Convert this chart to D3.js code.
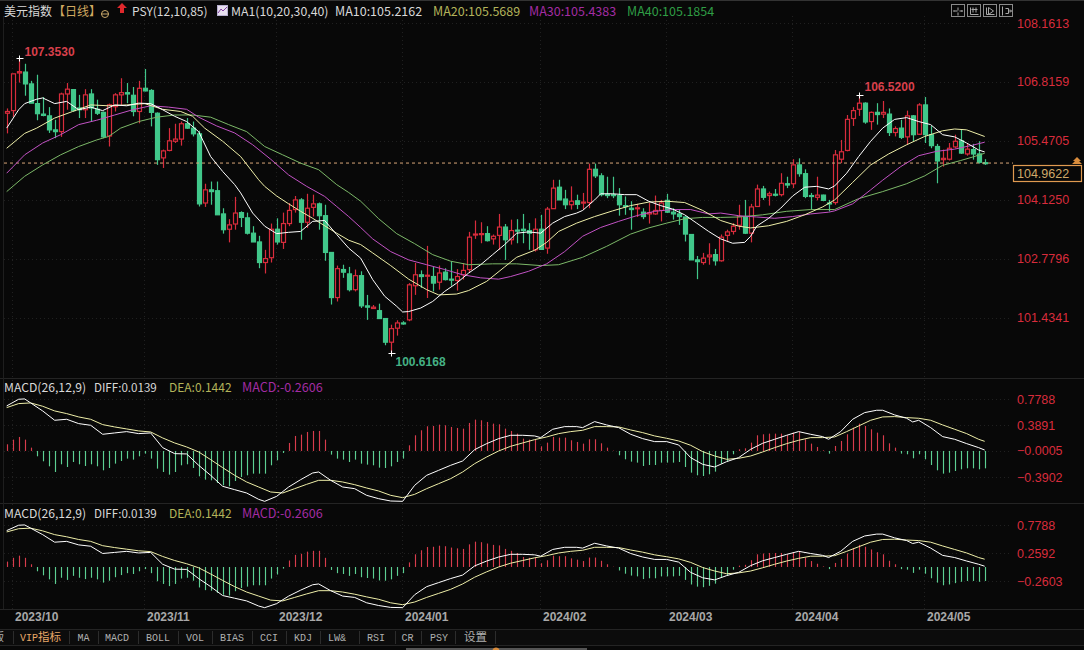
<!DOCTYPE html>
<html>
<head>
<meta charset="utf-8">
<style>
    html, body { margin: 0; padding: 0; background: #080808; overflow: hidden; }
    svg { display: block; }
</style>
<script src="https://cdn.jsdelivr.net/npm/d3@7"></script>
</head>
<body>
<svg id="chart" width="1084" height="650"></svg>
<script>
// daily candles, 164 bars
const open = [106.10,106.16,107.02,107.04,106.77,106.32,106.08,106.04,105.72,105.68,106.54,106.64,106.22,106.18,106.54,106.19,106.12,105.58,106.25,106.52,106.57,106.51,106.14,106.67,106.62,106.10,105.08,105.25,105.46,105.51,105.86,105.76,105.63,104.05,104.35,104.33,103.80,103.45,103.57,103.83,103.71,103.36,103.16,102.69,102.80,103.45,103.15,103.58,103.90,104.12,103.61,103.95,104.03,103.76,102.92,101.89,102.53,102.43,102.07,102.39,101.70,101.64,101.59,101.41,100.87,101.19,101.31,101.38,102.16,102.41,102.39,102.37,102.24,102.47,102.31,102.28,102.41,102.53,103.33,103.33,103.35,103.23,103.31,103.50,103.21,103.43,103.45,103.42,102.98,103.45,103.02,103.92,104.41,104.14,104.01,104.10,104.05,104.06,104.82,104.67,104.25,104.24,104.22,103.99,103.93,103.92,103.84,103.80,103.80,103.88,104.11,103.84,103.80,103.73,103.33,102.75,102.69,102.82,102.87,102.73,103.31,103.40,103.54,103.74,103.36,103.97,104.37,104.22,104.25,104.24,104.49,104.49,104.92,104.72,104.22,104.18,104.23,104.05,104.06,105.05,105.25,105.98,106.19,106.33,105.91,106.12,106.08,106.08,105.66,105.76,105.56,106.04,105.62,106.29,105.61,105.34,105.04,105.05,105.33,105.47,105.17,105.27,105.17,104.97];
const close = [106.14,107.00,107.05,106.77,106.33,106.09,106.05,105.72,105.68,106.54,106.65,106.16,106.18,106.52,106.22,106.10,105.56,106.29,106.52,106.57,106.54,106.14,106.67,106.61,106.12,105.04,105.24,105.47,105.51,105.86,105.76,105.63,104.03,104.35,104.31,103.78,103.44,103.55,103.82,103.72,103.36,103.16,102.69,102.78,103.45,103.16,103.58,103.88,104.12,103.61,103.93,104.03,103.76,102.92,101.89,102.55,102.47,102.07,102.39,101.70,101.67,101.67,101.41,100.87,101.18,101.31,101.29,102.18,102.41,102.37,102.40,102.22,102.45,102.30,102.29,102.37,102.51,103.27,103.34,103.35,103.19,103.29,103.50,103.21,103.42,103.42,103.42,103.36,103.45,102.99,103.91,104.39,104.12,104.01,104.09,104.02,104.07,104.82,104.67,104.24,104.22,104.22,104.01,103.97,103.90,103.94,103.74,103.83,103.88,104.05,103.84,103.80,103.74,103.34,102.75,102.71,102.79,102.86,102.73,103.27,103.39,103.52,103.74,103.36,103.96,104.37,104.18,104.26,104.23,104.50,104.46,104.92,104.72,104.20,104.20,104.23,104.11,104.03,105.15,105.22,105.96,106.16,106.33,105.90,106.12,106.07,106.12,105.66,105.75,105.55,106.04,105.61,106.29,105.61,105.36,105.01,105.07,105.30,105.46,105.19,105.28,105.17,104.98,104.96];
const high = [106.21,107.00,107.353,107.23,106.84,106.98,106.47,106.24,105.95,106.57,106.79,106.65,106.52,106.65,106.65,106.41,106.14,106.32,106.56,106.90,106.79,106.70,106.84,107.11,106.65,106.12,105.27,105.76,105.86,105.91,105.99,105.91,105.70,104.49,104.54,104.54,103.93,103.68,104.19,103.86,103.83,103.52,103.30,102.98,103.58,103.70,103.83,104.05,104.21,104.16,104.26,104.24,104.06,104.01,102.92,102.62,102.64,102.59,102.53,102.49,101.95,101.72,101.75,101.42,101.27,101.37,101.35,102.22,102.68,102.51,103.07,102.59,102.62,102.56,102.72,102.54,102.68,103.39,103.65,103.61,103.52,103.33,103.80,103.57,103.67,103.68,103.80,103.59,103.70,103.78,103.96,104.58,104.58,104.35,104.43,104.24,104.28,104.95,104.95,104.73,104.65,104.65,104.39,104.20,104.09,104.03,103.93,104.05,104.22,104.12,104.26,103.93,103.90,103.74,103.33,102.84,102.91,103.13,103.00,103.33,103.44,103.59,104.01,104.12,104.03,104.47,104.44,104.31,104.37,104.73,104.65,105.05,105.07,104.82,104.28,104.65,104.24,104.12,105.26,105.49,106.06,106.24,106.52,106.35,106.14,106.33,106.38,106.21,105.80,105.95,106.16,106.06,106.33,106.47,105.81,105.40,105.27,105.42,105.61,105.74,105.42,105.40,105.46,105.05];
const low = [105.64,106.02,106.80,106.50,106.33,105.94,106.03,105.65,105.53,105.56,106.18,106.14,105.99,105.99,105.91,106.06,105.53,105.34,106.14,106.29,106.33,106.03,105.87,106.60,105.80,104.92,104.85,105.23,105.42,105.36,105.74,105.57,103.97,103.96,104.01,103.78,103.35,103.15,103.44,103.50,103.33,103.16,102.56,102.44,102.69,103.10,103.00,103.52,103.83,103.21,103.48,103.74,103.44,102.73,101.73,101.80,102.34,102.03,102.03,101.65,101.38,101.63,101.40,100.80,100.6168,101.02,101.27,101.35,101.95,102.11,101.88,102.03,102.07,102.28,102.16,102.05,102.30,102.45,103.23,103.13,103.17,103.10,102.98,102.75,103.10,103.13,103.13,102.98,102.94,102.98,102.89,103.92,104.12,103.91,103.90,103.91,103.90,103.93,104.62,104.20,104.16,104.16,103.76,103.78,103.44,103.73,103.68,103.58,103.78,103.63,103.82,103.67,103.55,103.17,102.75,102.31,102.64,102.64,102.62,102.71,103.17,103.33,103.44,103.34,103.15,103.96,104.12,103.99,104.20,104.20,104.39,104.39,104.65,104.16,103.91,104.11,104.09,103.86,104.01,104.96,105.23,105.81,106.04,105.86,105.72,105.84,105.99,105.58,105.57,105.51,105.38,105.46,105.61,105.42,105.30,104.50,104.88,105.02,105.30,105.17,105.13,105.04,104.95,104.92];

// moving averages, read at the bars listed in each *Idx array
const ma10Idx = [0,2,3,5,6,8,10,12,14,16,18,20,22,24,26,28,30,32,34,36,38,39,41,43,45,47,49,51,53,55,57,59,61,63,65,66,67,69,71,73,75,77,79,81,83,85,87,89,91,93,95,96,98,99,101,103,105,107,109,111,113,115,117,119,121,123,124,125,127,129,131,133,135,137,138,140,142,144,146,148,150,152,154,156,158,160,162,163];
const ma10 = [105.76,106.18,106.32,106.42,106.45,106.32,106.37,106.18,106.24,106.16,106.29,106.27,106.33,106.32,106.18,106.03,105.91,105.68,105.11,104.77,104.47,104.28,103.82,103.52,103.35,103.38,103.40,103.63,103.65,103.33,103.02,102.79,102.30,101.92,101.69,101.56,101.57,101.65,101.80,102.03,102.22,102.45,102.64,102.87,103.10,103.36,103.39,103.36,103.59,103.74,103.82,103.88,104.12,104.26,104.26,104.24,104.24,104.09,103.99,103.91,103.78,103.59,103.40,103.23,103.13,103.15,103.29,103.52,103.70,103.93,104.21,104.41,104.43,104.37,104.44,104.73,105.11,105.46,105.76,105.96,106.00,105.91,105.84,105.61,105.56,105.42,105.26,105.2162];
const ma20Idx = [0,3,5,8,11,14,17,20,23,26,29,31,33,36,39,42,43,45,47,49,51,53,55,57,59,61,64,67,70,72,75,77,80,83,85,88,90,92,95,98,101,104,107,110,113,116,119,122,124,127,130,133,136,138,141,144,147,150,153,156,158,160,163];
const ma20 = [105.30,105.64,105.76,105.99,106.14,106.29,106.27,106.29,106.32,106.19,106.14,106.03,105.76,105.46,105.11,104.58,104.43,104.21,104.03,103.86,103.70,103.53,103.36,103.20,103.10,102.91,102.62,102.31,102.07,101.95,101.97,102.05,102.26,102.59,102.81,102.97,103.15,103.40,103.59,103.74,103.87,103.99,104.07,104.09,104.06,103.88,103.65,103.52,103.48,103.53,103.63,103.78,103.96,104.12,104.52,104.92,105.17,105.38,105.57,105.70,105.74,105.72,105.5689];
const ma30Idx = [0,3,6,9,12,15,18,21,24,27,30,32,35,38,41,44,47,50,53,55,57,59,61,64,67,70,73,76,79,82,84,87,90,93,96,99,102,105,108,111,114,117,119,122,125,128,131,134,137,138,141,144,146,149,152,155,158,161,163];
const ma30 = [104.73,105.15,105.42,105.61,105.84,105.94,106.06,106.18,106.27,106.24,106.19,106.01,105.81,105.65,105.38,105.05,104.69,104.43,104.20,103.97,103.74,103.49,103.23,102.94,102.75,102.64,102.53,102.41,102.34,102.31,102.37,102.49,102.66,102.94,103.29,103.49,103.63,103.76,103.86,103.90,103.90,103.80,103.82,103.76,103.73,103.70,103.74,103.80,103.84,103.87,104.03,104.35,104.57,104.88,105.13,105.23,105.28,105.37,105.4383];
const ma40Idx = [0,3,6,9,12,15,17,19,22,25,28,31,34,37,40,43,46,49,52,55,57,59,62,65,68,71,74,77,81,85,89,92,96,100,104,107,110,113,116,119,122,126,130,134,138,142,146,150,153,156,159,161,163];
const ma40 = [104.31,104.66,104.92,105.15,105.34,105.49,105.57,105.76,105.91,106.01,106.06,106.06,106.01,105.84,105.68,105.34,105.15,104.96,104.81,104.47,104.29,104.09,103.69,103.35,103.12,102.87,102.72,102.64,102.66,102.66,102.62,102.64,102.81,103.06,103.34,103.48,103.59,103.69,103.72,103.72,103.73,103.78,103.86,103.90,103.90,104.15,104.31,104.49,104.67,104.91,105.02,105.10,105.1854];

// MACD histogram, one value per bar
const macdHist = [0.10,0.17,0.21,0.17,0.05,-0.08,-0.155,-0.23,-0.315,-0.20,-0.24,-0.165,-0.20,-0.225,-0.20,-0.23,-0.29,-0.255,-0.19,-0.15,-0.115,-0.13,-0.08,-0.04,-0.115,-0.265,-0.315,-0.355,-0.315,-0.215,-0.20,-0.255,-0.38,-0.43,-0.44,-0.48,-0.515,-0.53,-0.45,-0.39,-0.365,-0.34,-0.34,-0.34,-0.215,-0.14,-0.03,0.12,0.225,0.245,0.285,0.30,0.30,0.17,-0.055,-0.115,-0.13,-0.165,-0.13,-0.19,-0.205,-0.215,-0.25,-0.255,-0.23,-0.165,-0.115,0.085,0.235,0.31,0.37,0.375,0.395,0.385,0.36,0.345,0.335,0.42,0.47,0.46,0.435,0.41,0.40,0.335,0.30,0.26,0.185,0.17,0.17,0.07,0.125,0.21,0.20,0.20,0.16,0.135,0.11,0.175,0.175,0.115,0.05,0.005,-0.065,-0.125,-0.16,-0.175,-0.225,-0.21,-0.21,-0.175,-0.175,-0.175,-0.165,-0.24,-0.325,-0.365,-0.375,-0.35,-0.31,-0.19,-0.16,-0.05,0.025,0.04,0.125,0.235,0.25,0.26,0.26,0.26,0.235,0.275,0.285,0.175,0.11,0.06,0.01,-0.04,0.075,0.15,0.25,0.35,0.41,0.375,0.325,0.275,0.235,0.115,0.05,-0.04,-0.05,-0.11,-0.05,-0.125,-0.21,-0.29,-0.34,-0.325,-0.30,-0.275,-0.26,-0.26,-0.275,-0.2606];
const diffIdx = [0,2,3,4,6,8,10,12,14,16,18,20,22,24,26,28,30,32,34,36,38,40,42,43,45,47,49,51,52,54,56,58,60,62,64,66,68,70,72,74,76,78,80,82,84,86,88,89,91,93,95,96,98,100,102,104,106,108,110,112,114,116,118,120,122,124,126,128,130,132,134,136,137,139,141,143,145,146,148,150,151,152,154,156,158,160,162,163];
const diff = [0.675,0.775,0.78,0.72,0.60,0.46,0.475,0.41,0.385,0.25,0.27,0.29,0.26,0.27,0.05,-0.04,-0.045,-0.215,-0.365,-0.53,-0.58,-0.63,-0.725,-0.755,-0.68,-0.54,-0.43,-0.33,-0.315,-0.44,-0.54,-0.565,-0.665,-0.715,-0.75,-0.755,-0.515,-0.365,-0.29,-0.215,-0.15,0.02,0.11,0.185,0.235,0.235,0.225,0.20,0.325,0.365,0.365,0.35,0.44,0.39,0.35,0.25,0.185,0.14,0.14,0.09,-0.10,-0.20,-0.24,-0.16,-0.10,0.025,0.115,0.175,0.235,0.29,0.25,0.215,0.175,0.29,0.475,0.575,0.61,0.61,0.54,0.49,0.435,0.46,0.35,0.215,0.175,0.11,0.05,0.0139];
const deaIdx = [0,2,4,6,8,10,12,14,16,18,20,22,24,26,28,30,32,34,36,38,40,42,44,46,48,50,52,54,56,58,60,62,64,66,68,70,72,74,76,78,80,82,84,86,88,90,92,94,96,98,100,102,104,106,108,110,112,114,116,118,120,122,124,126,128,130,132,134,136,138,140,142,144,146,148,150,152,154,156,158,160,162,163];
const dea = [0.65,0.71,0.72,0.67,0.60,0.56,0.51,0.475,0.395,0.36,0.33,0.30,0.285,0.195,0.12,0.06,-0.015,-0.13,-0.25,-0.365,-0.465,-0.54,-0.615,-0.63,-0.565,-0.50,-0.44,-0.44,-0.465,-0.505,-0.555,-0.60,-0.665,-0.70,-0.65,-0.565,-0.49,-0.415,-0.315,-0.19,-0.09,0,0.07,0.12,0.17,0.21,0.26,0.29,0.31,0.365,0.365,0.36,0.315,0.275,0.225,0.19,0.15,0.085,-0.01,-0.075,-0.125,-0.11,-0.075,-0.015,0.05,0.11,0.16,0.20,0.20,0.21,0.29,0.375,0.46,0.51,0.515,0.50,0.49,0.46,0.39,0.325,0.26,0.175,0.1442];

// axes and labels
const priceTicks = [108.1613,106.8159,105.4705,104.1250,102.7796,101.4341];
const macdTicks1 = [0.7788,0.3891,-0.0005,-0.3902];
const macdTicks2 = [0.7788,0.2592,-0.2603];
const monthLabels = ['2023/10','2023/11','2023/12','2024/01','2024/02','2024/03','2024/04','2024/05'];
const monthBars = [1,23,45,66,89,110,131,153];
const tabLabels = ['MA','MACD','BOLL','VOL','BIAS','CCI','KDJ','LW&','RSI','CR','PSY'];
const tabX = [77.5,105,146,186,220,260,294,328,367,401.5,430];
const tabSeps = [13,69,98,138,178,212,252,286,320,359,395,421,455,495];
const lastPrice = 104.9622;

const UI_FONT = '"Noto Sans CJK SC", "Noto Sans", sans-serif';
const NUM_FONT = '"Liberation Sans", Arial, sans-serif';
const TAB_FONT = '"Liberation Mono", monospace';
const BG = '#080808';
const RED = '#d82c3c';
const GREEN = '#41c78a';

const svg = d3.select('#chart');
svg.append('rect').attr('width', 1084).attr('height', 650).attr('fill', BG);

const x = d3.scaleLinear().domain([0, 163]).range([6.67, 984.67]);
const yPrice = d3.scaleLinear().domain([108.1613, 101.4341]).range([23, 317.5]);
const yMacd1 = d3.scaleLinear().domain([0.7788, -0.3902]).range([399, 477]);
const yMacd2 = d3.scaleLinear().domain([0.7788, -0.2603]).range([525, 581]);

// frame lines
[378, 503, 609, 629, 645].forEach(y => {
    svg.append('line').attr('x1', 0).attr('x2', 1084).attr('y1', y + 0.5).attr('y2', y + 0.5)
        .attr('stroke', '#242424');
});
svg.append('line').attr('x1', 0).attr('x2', 1084).attr('y1', 0.5).attr('y2', 0.5).attr('stroke', '#333');
svg.append('line').attr('x1', 3.5).attr('x2', 3.5).attr('y1', 16).attr('y2', 609).attr('stroke', '#1e1e1e');

// dotted grid
const grid = svg.append('g').attr('stroke', '#202020').attr('stroke-dasharray', '1,3');
monthBars.forEach(b => {
    grid.append('line').attr('x1', Math.round(x(b)) - 0.5).attr('x2', Math.round(x(b)) - 0.5)
        .attr('y1', 16).attr('y2', 609);
});
function hGrid(scale, ticks) {
    ticks.forEach(t => {
        grid.append('line').attr('x1', 4).attr('x2', 1012)
            .attr('y1', Math.round(scale(t)) + 0.5).attr('y2', Math.round(scale(t)) + 0.5);
    });
}
hGrid(yPrice, priceTicks);
hGrid(yMacd1, macdTicks1);
hGrid(yMacd2, macdTicks2);

// y axes
function drawAxis(scale, ticks) {
    const g = svg.append('g').attr('transform', 'translate(1017,0)')
        .call(d3.axisRight(scale).tickValues(ticks).tickSize(0).tickPadding(0).tickFormat(d3.format('.4f')));
    g.select('.domain').remove();
    g.selectAll('text').attr('fill', RED).attr('font-family', NUM_FONT).attr('font-size', 12.5);
}
drawAxis(yPrice, priceTicks);
drawAxis(yMacd1, macdTicks1);
drawAxis(yMacd2, macdTicks2);

// candles
const bars = d3.range(open.length);
const candles = svg.append('g').selectAll('g').data(bars).enter().append('g');
candles.append('line')
    .attr('x1', i => Math.round(x(i)) + 0.5).attr('x2', i => Math.round(x(i)) + 0.5)
    .attr('y1', i => yPrice(high[i])).attr('y2', i => yPrice(low[i]))
    .attr('stroke', i => close[i] >= open[i] ? RED : GREEN)
    .attr('stroke-width', 1.2);
candles.append('rect')
    .attr('x', i => Math.round(x(i)) - 1.5)
    .attr('width', 4)
    .attr('y', i => yPrice(Math.max(open[i], close[i])))
    .attr('height', i => Math.max(1, Math.abs(yPrice(open[i]) - yPrice(close[i]))))
    .attr('fill', i => close[i] >= open[i] ? BG : GREEN)
    .attr('stroke', i => close[i] >= open[i] ? RED : GREEN)
    .attr('stroke-width', 1.2);

// last price line
svg.append('line').attr('x1', 4).attr('x2', 1013)
    .attr('y1', yPrice(lastPrice)).attr('y2', yPrice(lastPrice))
    .attr('stroke', '#d9a679').attr('stroke-dasharray', '3,3');

function drawLine(idx, values, scale, color) {
    const line = d3.line().x((d, k) => x(idx[k])).y(d => scale(d));
    svg.append('path').datum(values).attr('d', line)
        .attr('fill', 'none').attr('stroke', color).attr('stroke-width', 1);
}
drawLine(ma40Idx, ma40, yPrice, '#7cb868');
drawLine(ma30Idx, ma30, yPrice, '#c252c4');
drawLine(ma20Idx, ma20, yPrice, '#eeeea8');
drawLine(ma10Idx, ma10, yPrice, '#ffffff');

// extreme markers and labels
function markExtreme(bar, value, labelText, color, dx, dy) {
    const px = Math.round(x(bar)) + 0.5;
    const py = Math.round(yPrice(value)) + 0.5;
    svg.append('line').attr('x1', px - 3).attr('x2', px + 4).attr('y1', py).attr('y2', py).attr('stroke', '#fff');
    svg.append('line').attr('x1', px).attr('x2', px).attr('y1', py - 3).attr('y2', py + 3).attr('stroke', '#fff');
    svg.append('text').attr('x', px + dx).attr('y', py + dy).text(labelText)
        .attr('fill', color).attr('font-family', NUM_FONT).attr('font-weight', 'bold').attr('font-size', 12);
}
markExtreme(d3.maxIndex(high), d3.max(high), d3.format('.4f')(d3.max(high)), '#d8404c', 5, -3);
markExtreme(142, high[142], d3.format('.4f')(high[142]), '#d8404c', 5, -5);
markExtreme(d3.minIndex(low), d3.min(low), d3.format('.4f')(d3.min(low)), '#45b184', 4, 12);

// last price box
svg.append('rect').attr('x', 1013.5).attr('y', 165.5).attr('width', 68).attr('height', 16)
    .attr('fill', BG).attr('stroke', '#e09a50').attr('stroke-width', 1.2);
svg.append('text').attr('x', 1017).attr('y', 178).text(d3.format('.4f')(lastPrice))
    .attr('fill', '#d0a868').attr('font-family', NUM_FONT).attr('font-size', 12.5);
svg.append('path').attr('d', 'M1077,157 l4,4 h-2 l3,3 h-10 l3,-3 h-2 z').attr('fill', '#d98c3c');

// MACD panels
function drawMacd(scale) {
    svg.append('g').selectAll('line').data(bars).enter().append('line')
        .attr('x1', i => Math.round(x(i)) + 0.5).attr('x2', i => Math.round(x(i)) + 0.5)
        .attr('y1', scale(0)).attr('y2', i => scale(macdHist[i]))
        .attr('stroke', i => macdHist[i] >= 0 ? '#d83c4c' : '#5ccf92')
        .attr('stroke-width', 1.15);
    drawLine(deaIdx, dea, scale, '#eeeea8');
    drawLine(diffIdx, diff, scale, '#ffffff');
}
drawMacd(yMacd1);
drawMacd(yMacd2);

function headerText(px, py, str, color, size) {
    return svg.append('text').attr('x', px).attr('y', py).text(str)
        .attr('fill', color).attr('font-family', UI_FONT).attr('font-size', size || 12);
}

// top header
headerText(4, 16, '美元指数', '#d8d8d8');
headerText(53, 16, '【日线】', '#d0a860');
svg.append('circle').attr('cx', 105).attr('cy', 14).attr('r', 3.5).attr('fill', 'none').attr('stroke', '#c9a86a');
svg.append('line').attr('x1', 101).attr('x2', 109).attr('y1', 14).attr('y2', 14).attr('stroke', '#c9a86a');
svg.append('path').attr('d', 'M122,3 l5,5 h-3 v5 h-4 v-5 h-3 z').attr('fill', '#e0282c');
headerText(132, 16, 'PSY(12,10,85)', '#d8d8d8');
svg.append('rect').attr('x', 217.5).attr('y', 5.5).attr('width', 10).attr('height', 10).attr('fill', '#e8e0f0').attr('stroke', '#b8b0d0');
svg.append('path').attr('d', 'M218,13 l3,-4 l2,2 l4,-4').attr('fill', 'none').attr('stroke', '#8040a0');
headerText(231, 16, 'MA1(10,20,30,40)', '#d8d8d8', 12.3);
headerText(335, 16, 'MA10:105.2162', '#d8d8d8', 12.5);
headerText(433, 16, 'MA20:105.5689', '#b3b35a', 12.5);
headerText(529, 16, 'MA30:105.4383', '#a32ca3', 12.5);
headerText(627, 16, 'MA40:105.1854', '#2f9d45', 12.5);

// toolbar buttons, top right
const iconPaths = [
    'M3,6.5 h3 M8,6.5 h3 M6.5,3 v3 M6.5,8 v3 M2,6.5 l1,-1 M2,6.5 l1,1 M11,6.5 l-1,-1 M11,6.5 l-1,1',
    'M3,3 v7 h8 M5.5,3 v5 M8.5,3 v5 M4,5 h6',
    'M3,3 v7 h8 M5,3 l5,3.5 l-5,3.5 z',
    'M3,2 v9 M6,4 h3 v5 h-3 M9,6.5 h3 M10.5,5 l1.5,1.5 l-1.5,1.5'
];
[951, 967, 983, 999].forEach((bx, k) => {
    svg.append('rect').attr('x', bx + 0.5).attr('y', 4.5).attr('width', 13).attr('height', 12)
        .attr('fill', 'none').attr('stroke', '#8a8a8a');
    svg.append('path').attr('transform', `translate(${bx + 0.5},4.5)`).attr('d', iconPaths[k])
        .attr('fill', 'none').attr('stroke', '#a8a8a8');
});

// MACD titles
[391, 517].forEach(py => {
    headerText(4, py + 1, 'MACD(26,12,9)', '#d8d8d8', 12.2);
    headerText(94, py + 1, 'DIFF:0.0139', '#d8d8d8', 11.6);
    headerText(169, py + 1, 'DEA:0.1442', '#b3b35a');
    headerText(242, py + 1, 'MACD:-0.2606', '#a32ca3', 12.6);
});

// month axis
svg.append('g').selectAll('text').data(monthLabels).enter().append('text')
    .attr('x', (d, k) => Math.round(x(monthBars[k])) + 2)
    .attr('y', 621)
    .text(d => d)
    .attr('fill', '#a8a8a8').attr('font-family', NUM_FONT).attr('font-weight', 'bold').attr('font-size', 12);

// bottom tabs
svg.append('rect').attr('y', 630).attr('width', 1084).attr('height', 15).attr('fill', '#0c0c0c');
tabSeps.forEach(sx => {
    svg.append('line').attr('x1', sx + 0.5).attr('x2', sx + 0.5).attr('y1', 631).attr('y2', 644).attr('stroke', '#2c2c2c');
});
headerText(-7, 641, '版', '#b0b0b0', 11);
const vip = svg.append('text').attr('x', 20).attr('y', 641).attr('fill', '#e8a868');
vip.append('tspan').attr('font-family', TAB_FONT).attr('font-size', 10).text('VIP');
vip.append('tspan').attr('font-family', UI_FONT).attr('font-size', 11.5).text('指标');
svg.append('g').selectAll('text').data(tabLabels).enter().append('text')
    .attr('x', (d, k) => tabX[k]).attr('y', 641).text(d => d)
    .attr('fill', '#b0b0b0').attr('font-family', TAB_FONT).attr('font-size', 10);
headerText(464, 641, '设置', '#b0b0b0', 11.5);
svg.append('rect').attr('x', 406).attr('y', 648).attr('width', 181).attr('height', 2).attr('fill', '#555');
svg.append('circle').attr('cx', 496).attr('cy', 651).attr('r', 3.5).attr('fill', '#d98c3c');
</script>
</body>
</html>
